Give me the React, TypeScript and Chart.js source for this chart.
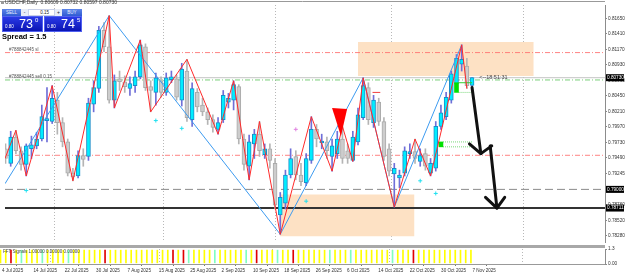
import React, { useEffect, useRef } from 'react';
import { Chart, registerables } from 'chart.js';

Chart.register(...registerables);

const FONT = '"Liberation Sans", "DejaVu Sans", sans-serif';

// ---- candle data (bar index 0 = 4 Jul 2025, daily) ----
const opens = [
  0.79629, 0.79403, 0.79810, 0.79599, 0.79388, 0.79629, 0.79674, 0.79780, 0.80066, 0.80051,
  0.80382, 0.80035, 0.79735, 0.79253, 0.79208, 0.79524, 0.79509, 0.80321, 0.80562, 0.81465,
  0.81209, 0.80382, 0.80713, 0.80667, 0.80562, 0.80607, 0.80743, 0.81209, 0.80592, 0.80502,
  0.80682, 0.80502, 0.80698, 0.80713, 0.80382, 0.80833, 0.80081, 0.80502, 0.80306, 0.80201,
  0.80081, 0.79930, 0.80081, 0.80351, 0.80382, 0.80592, 0.79780, 0.79358, 0.79704, 0.79855,
  0.79539, 0.79629, 0.79403, 0.78606, 0.78787, 0.79223, 0.79509, 0.79223, 0.79103, 0.79449,
  0.79930, 0.79719, 0.79735, 0.79509, 0.79554, 0.79780, 0.79599, 0.79449, 0.79735, 0.80111,
  0.80577, 0.80035, 0.80351, 0.80051, 0.79629, 0.79238, 0.79178, 0.79253, 0.79554, 0.79584,
  0.79434, 0.79554, 0.79253, 0.79328, 0.79975, 0.80126, 0.80382, 0.80637, 0.80938, 0.80908,
  0.80609,
];
const highs = [
  0.79704, 0.79900, 0.79915, 0.79659, 0.79704, 0.79825, 0.79885, 0.80306, 0.80577, 0.80607,
  0.80502, 0.80111, 0.79780, 0.79328, 0.79599, 0.79629, 0.80412, 0.80682, 0.81525, 0.81585,
  0.81691, 0.80773, 0.80833, 0.80758, 0.80743, 0.80833, 0.81314, 0.81254, 0.80682, 0.80803,
  0.80743, 0.80803, 0.80833, 0.80773, 0.80953, 0.81014, 0.80652, 0.80562, 0.80412, 0.80261,
  0.80156, 0.80111, 0.80532, 0.80487, 0.80682, 0.80622, 0.79855, 0.79840, 0.79930, 0.80051,
  0.79704, 0.79704, 0.79479, 0.78952, 0.79298, 0.79629, 0.79599, 0.79403, 0.79554, 0.80126,
  0.80005, 0.79855, 0.79810, 0.79780, 0.79900, 0.79975, 0.79704, 0.79900, 0.80261, 0.80728,
  0.80652, 0.80457, 0.80412, 0.80111, 0.79704, 0.79403, 0.79298, 0.79659, 0.79704, 0.79780,
  0.79629, 0.79629, 0.79479, 0.80051, 0.80306, 0.80502, 0.80833, 0.81089, 0.81239, 0.81029,
  0.80732,
];
const lows = [
  0.79403, 0.79358, 0.79554, 0.79298, 0.79208, 0.79479, 0.79629, 0.79750, 0.79735, 0.80020,
  0.79855, 0.79659, 0.79208, 0.79133, 0.79178, 0.79358, 0.79449, 0.80201, 0.80502, 0.81134,
  0.80336, 0.80261, 0.80532, 0.80502, 0.80457, 0.80502, 0.80713, 0.80532, 0.80201, 0.80306,
  0.80427, 0.80457, 0.80652, 0.80382, 0.80291, 0.80051, 0.79975, 0.80201, 0.80141, 0.80005,
  0.79885, 0.79855, 0.80035, 0.80261, 0.80231, 0.79704, 0.79298, 0.79148, 0.79479, 0.79509,
  0.79479, 0.79328, 0.78696, 0.78305, 0.78696, 0.79178, 0.79148, 0.79057, 0.79057, 0.79403,
  0.79659, 0.79629, 0.79479, 0.79283, 0.79479, 0.79403, 0.79403, 0.79434, 0.79689, 0.80081,
  0.80005, 0.79960, 0.79990, 0.79449, 0.79208, 0.78726, 0.79027, 0.79208, 0.79479, 0.79403,
  0.79358, 0.79298, 0.79208, 0.79283, 0.79930, 0.80081, 0.80336, 0.80592, 0.80833, 0.80562,
  0.80597,
];
const closes = [
  0.79479, 0.79810, 0.79599, 0.79388, 0.79674, 0.79689, 0.79780, 0.80126, 0.80096, 0.80412,
  0.80035, 0.79735, 0.79253, 0.79193, 0.79524, 0.79464, 0.80336, 0.80577, 0.81465, 0.81209,
  0.80382, 0.80682, 0.80667, 0.80592, 0.80637, 0.80743, 0.81239, 0.80577, 0.80532, 0.80728,
  0.80502, 0.80728, 0.80743, 0.80427, 0.80863, 0.80111, 0.80562, 0.80276, 0.80201, 0.80081,
  0.79960, 0.80035, 0.80457, 0.80412, 0.80622, 0.79780, 0.79388, 0.79735, 0.79855, 0.79599,
  0.79629, 0.79449, 0.78756, 0.78877, 0.79223, 0.79479, 0.79223, 0.79118, 0.79479, 0.79930,
  0.79780, 0.79750, 0.79599, 0.79674, 0.79780, 0.79479, 0.79479, 0.79810, 0.80156, 0.80607,
  0.80081, 0.80382, 0.80051, 0.79509, 0.79283, 0.79328, 0.79223, 0.79599, 0.79584, 0.79479,
  0.79524, 0.79358, 0.79403, 0.79975, 0.80186, 0.80427, 0.80788, 0.81029, 0.81014, 0.80607,
  0.80730,
];

// date axis labels (every 6 bars)
const dateTickBars = [0, 6, 12, 18, 24, 30, 36, 42, 48, 54, 60, 66, 72, 78, 84, 90];
const dateLabels = [
  '4 Jul 2025', '14 Jul 2025', '22 Jul 2025', '30 Jul 2025', '7 Aug 2025', '15 Aug 2025',
  '25 Aug 2025', '2 Sep 2025', '10 Sep 2025', '18 Sep 2025', '26 Sep 2025', '6 Oct 2025',
  '14 Oct 2025', '22 Oct 2025', '30 Oct 2025', '7 Nov 2025',
];
const gridBars = [20, 41, 63, 86, 113.9];
const priceTicks = [
  0.8165, 0.8141, 0.8117, 0.8093, 0.8069, 0.8045, 0.8021, 0.7997, 0.7973, 0.7949, 0.79245,
  0.7876, 0.7852, 0.7828,
];

// zigzags
const redZigBars = [-0.1, 2, 4, 9, 13, 20, 21, 26, 28, 35, 41, 44, 47, 49, 53, 59, 63, 65, 67, 69, 75, 79, 82, 88, 89];
const redZigPrices = [
  0.79479, 0.79915, 0.79208, 0.80607, 0.79133, 0.81691, 0.80261, 0.81314, 0.80201, 0.81014,
  0.79855, 0.80682, 0.79148, 0.80051, 0.78305, 0.80126, 0.79283, 0.79975, 0.79434, 0.80728,
  0.78726, 0.79780, 0.79208, 0.81239, 0.80562,
];
const blueZigBars = [-0.1, 20, 53, 69, 75, 88];
const blueZigPrices = [0.79088, 0.81691, 0.78305, 0.80728, 0.78726, 0.81239];

// levels
const bidPrice = 0.8073;
const slPrice = 0.81119;
const entryPrice = 0.80695;
const tpPrice = 0.79528;
const levelA = 0.79;
const levelB = 0.78711;

// zones
const topZoneBars = [68, 101.9];
const topZonePrices = [0.81284, 0.80758];
const bottomZoneBars = [52.9, 78.9];
const bottomZonePrices = [0.78922, 0.78275];

// red triangle
const triBars = [63.0, 65.9, 64.7];
const triPrices = [0.80261, 0.80246, 0.79825];

// arrows
const arrow1ShaftBars = [90.0, 91.7];
const arrow1ShaftPrices = [0.80577, 0.79554];
const arrow1HeadBars = [89.5, 91.7, 93.8];
const arrow1HeadPrices = [0.79705, 0.79554, 0.79674];
const arrow2ShaftBars = [93.5, 94.8];
const arrow2ShaftPrices = [0.79674, 0.78711];
const arrow2HeadBars = [92.6, 94.8, 96.3];
const arrow2HeadPrices = [0.78877, 0.78711, 0.78877];

// markers
const cyanMarkBars = [4, 29, 34, 58, 80, 83];
const cyanMarkPrices = [0.78982, 0.80066, 0.79945, 0.78817, 0.79133, 0.78937];
const violetMarkBars = [56];
const violetMarkPrices = [0.7993];
const greenBoxBars = [84, 87];
const greenBoxLows = [0.79659, 0.80502];
const greenBoxHighs = [0.79735, 0.80652];

// sub-window signal colours per bar
const signals =
  'YYRYGYYYGY' + 'YYYGYYYYYY' + 'RYYYYYYYYY' + 'YYYRYRGYYY' + 'YGYYYYYGYR' +
  'YYYGYYRYYY' + 'YYYGYYYGYY' + 'YYYYYGYYYR' + 'YYYYYYYYYYY';

const X_MIN = -0.1;
const X_MAX = 115.65;
const Y_MIN = 0.78185;
const Y_MAX = 0.81856;

const PEACH = 'rgb(253,225,196)';
const SIG: Record<string, string> = { Y: '#FFFF00', R: '#E00000', G: '#7FFFC0' };
const AXIS_FONT = 4.7;

const pts = (xs: number[], ys: number[]) => xs.map((x, i) => ({ x, y: ys[i] }));

export default function App() {
  const mainRef = useRef<HTMLCanvasElement>(null);
  const subRef = useRef<HTMLCanvasElement>(null);

  useEffect(() => {
    const bars = opens.map((_, i) => i);
    const bull = (i: number) => closes[i] >= opens[i];
    const line = (data: any[], color: string, width: number, dash: number[], order: number, extra: any = {}) => ({
      type: 'line', data, borderColor: color, borderWidth: width, borderDash: dash,
      pointRadius: 0, fill: false, tension: 0, order, ...extra,
    });
    const span = (p: number) => [{ x: X_MIN, y: p }, { x: X_MAX, y: p }];
    const zone = (bx: number[], pr: number[]) => ({
      type: 'line', data: [{ x: bx[0], y: pr[0] }, { x: bx[1], y: pr[0] }],
      fill: { value: pr[1] }, backgroundColor: PEACH, borderColor: 'rgba(0,0,0,0)', borderWidth: 0,
      pointRadius: 0, order: 30,
    });

    const overlay = {
      id: 'overlay',
      afterDatasetsDraw(chart: any) {
        const { ctx, chartArea, scales } = chart;
        const x = scales.x, y = scales.y;
        ctx.save();
        ctx.beginPath();
        triBars.forEach((b, i) => {
          const px = x.getPixelForValue(b), py = y.getPixelForValue(triPrices[i]);
          if (i === 0) ctx.moveTo(px, py); else ctx.lineTo(px, py);
        });
        ctx.closePath();
        ctx.fillStyle = '#FF0000';
        ctx.fill();
        ctx.font = `4.5px ${FONT}`;
        ctx.fillStyle = '#555';
        ctx.textAlign = 'left';
        ctx.textBaseline = 'bottom';
        ctx.fillText('#788842445 sl', chartArea.left + 4, y.getPixelForValue(slPrice) - 1);
        ctx.fillText('#788842445 sell 0.15', chartArea.left + 4, y.getPixelForValue(entryPrice) - 1);
        ctx.font = `5.5px ${FONT}`;
        ctx.fillStyle = '#444';
        ctx.textBaseline = 'middle';
        ctx.fillText('<--18:51:31', x.getPixelForValue(91.4), y.getPixelForValue(bidPrice));
        ctx.restore();
      },
      afterDraw(chart: any) {
        const { ctx, chartArea, scales } = chart;
        const y = scales.y;
        ctx.save();
        ctx.strokeStyle = '#999';
        ctx.lineWidth = 1;
        ctx.beginPath();
        ctx.moveTo(0, 1.5);
        ctx.lineTo(chartArea.right, 1.5);
        ctx.stroke();
        const tag = (p: number) => {
          const py = y.getPixelForValue(p);
          ctx.fillStyle = '#000';
          ctx.fillRect(chartArea.right + 1, py - 3.5, 18, 7);
          ctx.fillStyle = '#fff';
          ctx.font = `${AXIS_FONT}px ${FONT}`;
          ctx.textAlign = 'left';
          ctx.textBaseline = 'middle';
          ctx.fillText(p.toFixed(5), chartArea.right + 2, py);
        };
        tag(bidPrice);
        tag(levelA);
        tag(levelB);
        ctx.restore();
      },
    };

    const main = new Chart(mainRef.current as HTMLCanvasElement, {
      type: 'bar',
      data: {
        datasets: [
          zone(topZoneBars, topZonePrices),
          zone(bottomZoneBars, bottomZonePrices),
          line(span(slPrice), 'rgba(255,110,110,0.85)', 1, [5, 2, 1, 2], 20),
          line(span(tpPrice), 'rgba(255,110,110,0.85)', 1, [5, 2, 1, 2], 20),
          line(span(entryPrice), 'rgba(100,200,100,0.85)', 1, [5, 2, 1, 2], 20),
          line(span(bidPrice), '#C4C4C4', 1, [], 20),
          line(span(levelA), '#8A8A8A', 1, [8, 4], 20),
          line(span(levelB), '#333333', 2, [], 20),
          {
            type: 'bar',
            data: bars.map((i) => ({ x: i, y: [lows[i], highs[i]] })),
            backgroundColor: bars.map((i) => (bull(i) ? '#6F6FD8' : '#B4B4B4')),
            barThickness: 1, grouped: false, order: 12,
          },
          {
            type: 'bar',
            data: bars.map((i) => ({ x: i, y: [opens[i], closes[i]] })),
            backgroundColor: bars.map((i) => (bull(i) ? '#00EEFF' : '#CDCDCD')),
            borderColor: bars.map((i) => (bull(i) ? '#1A8CC8' : '#AAAAAA')),
            borderWidth: 1, borderSkipped: false, barThickness: 4, grouped: false, order: 11,
          },
          {
            type: 'bar',
            data: greenBoxBars.map((b, i) => ({ x: b, y: [greenBoxLows[i], greenBoxHighs[i]] })),
            backgroundColor: '#00E000', barThickness: 4, grouped: false, order: 10,
          },
          line(pts([84.4, 90], [greenBoxHighs[0], greenBoxHighs[0]]), '#7CD87C', 1, [1, 1], 10),
          line(pts([84.4, 90], [greenBoxLows[0], greenBoxLows[0]]), '#7CD87C', 1, [1, 1], 10),
          line(pts([87.4, 90], [greenBoxHighs[1], greenBoxHighs[1]]), '#30D030', 1, [], 10),
          line(pts([87.4, 90], [greenBoxLows[1], greenBoxLows[1]]), '#7CD87C', 1, [1, 1], 10),
          line(pts(blueZigBars, blueZigPrices), '#3D9BF0', 1, [], 6),
          line(pts(redZigBars, redZigPrices), '#FF2A2A', 1, [], 5),
          line(pts([70.8, 72.3], [0.80502, 0.80502]), '#F04040', 1, [], 5),
          line(pts(cyanMarkBars, cyanMarkPrices), '#20E0F0', 1, [], 4, {
            showLine: false, pointRadius: 2, pointStyle: 'cross', pointBorderColor: '#20E0F0', pointBorderWidth: 1,
          }),
          line(pts(violetMarkBars, violetMarkPrices), '#E080E0', 1, [], 4, {
            showLine: false, pointRadius: 2, pointStyle: 'cross', pointBorderColor: '#E080E0', pointBorderWidth: 1,
          }),
          line(pts(arrow1ShaftBars, arrow1ShaftPrices), '#111', 3, [], 1, { borderCapStyle: 'round' }),
          line(pts(arrow1HeadBars, arrow1HeadPrices), '#111', 3, [], 1, { borderCapStyle: 'round', borderJoinStyle: 'round' }),
          line(pts(arrow2ShaftBars, arrow2ShaftPrices), '#111', 3, [], 1, { borderCapStyle: 'round' }),
          line(pts(arrow2HeadBars, arrow2HeadPrices), '#111', 3, [], 1, { borderCapStyle: 'round', borderJoinStyle: 'round' }),
        ] as any,
      },
      options: {
        responsive: false,
        animation: false,
        events: [],
        layout: { padding: { top: 2, bottom: 1, left: 0, right: 0 } },
        plugins: { legend: { display: false }, tooltip: { enabled: false } },
        scales: {
          x: {
            type: 'linear', min: X_MIN, max: X_MAX, offset: false, position: 'bottom',
            afterBuildTicks: (s: any) => { s.ticks = gridBars.map((v) => ({ value: v })); },
            afterFit: (s: any) => { s.height = 0; s.paddingLeft = 0; s.paddingRight = 0; },
            ticks: { display: false },
            grid: { color: '#B8B8B8', drawTicks: false, lineWidth: 1 },
            border: { display: false, dash: [1, 2] },
          },
          y: {
            type: 'linear', position: 'right', min: Y_MIN, max: Y_MAX,
            afterBuildTicks: (s: any) => { s.ticks = priceTicks.map((v) => ({ value: v })); },
            afterFit: (s: any) => { s.width = 20; s.paddingTop = 0; s.paddingBottom = 0; },
            ticks: {
              autoSkip: false, padding: 1, color: '#333', font: { family: FONT, size: AXIS_FONT },
              callback: (v: any) => Number(v).toFixed(5),
            },
            grid: { drawOnChartArea: false, drawTicks: true, tickLength: 2, color: '#888' },
            border: { display: true, color: '#8C8C8C' },
          },
        },
      } as any,
      plugins: [overlay],
    });

    const sig = signals.split('');
    const sub = new Chart(subRef.current as HTMLCanvasElement, {
      type: 'bar',
      data: {
        datasets: [{
          data: sig.map((_, i) => ({ x: i, y: [0.1, 1.2] })),
          backgroundColor: sig.map((c) => SIG[c]),
          barThickness: 1, grouped: false,
        }] as any,
      },
      options: {
        responsive: false,
        animation: false,
        events: [],
        layout: { padding: { top: 5, bottom: 0, left: 0, right: 0 } },
        plugins: { legend: { display: false }, tooltip: { enabled: false } },
        scales: {
          x: {
            type: 'linear', min: X_MIN, max: X_MAX, offset: false, position: 'bottom',
            afterBuildTicks: (s: any) => { s.ticks = dateTickBars.map((v) => ({ value: v })); },
            afterFit: (s: any) => { s.height = 10; s.paddingLeft = 0; s.paddingRight = 0; },
            ticks: {
              autoSkip: false, maxRotation: 0, minRotation: 0, align: 'start', labelOffset: 1.5, padding: 1.5,
              color: '#333', font: { family: FONT, size: 4.6 },
              callback: (_v: any, i: number) => dateLabels[i],
            },
            grid: { drawOnChartArea: false, drawTicks: true, tickLength: 2, color: '#777' },
            border: { display: true, color: '#999' },
          },
          xg: {
            type: 'linear', min: X_MIN, max: X_MAX, offset: false, position: 'bottom',
            afterBuildTicks: (s: any) => { s.ticks = gridBars.map((v) => ({ value: v })); },
            afterFit: (s: any) => { s.height = 0; s.paddingLeft = 0; s.paddingRight = 0; },
            ticks: { display: false },
            grid: { color: '#B8B8B8', drawTicks: false },
            border: { display: false, dash: [1, 2] },
          },
          y: {
            type: 'linear', position: 'right', min: 0, max: 1.3,
            afterBuildTicks: (s: any) => { s.ticks = [{ value: 0 }, { value: 1.3 }]; },
            afterFit: (s: any) => { s.width = 20; s.paddingTop = 0; s.paddingBottom = 0; },
            ticks: {
              autoSkip: false, padding: 1, color: '#333', font: { family: FONT, size: AXIS_FONT },
              callback: (v: any) => (Number(v) === 0 ? '0.00' : '1.3'),
            },
            grid: { drawOnChartArea: false, drawTicks: true, tickLength: 2, color: '#888' },
            border: { display: true, color: '#8C8C8C' },
          },
        },
      } as any,
    });

    return () => { main.destroy(); sub.destroy(); };
  }, []);

  const blueBtn: React.CSSProperties = {
    position: 'absolute', top: 9, height: 7, background: 'linear-gradient(#5C84E8, #2F5BD2)',
    color: '#E8F0FF', fontSize: 4.5, lineHeight: '7px', textAlign: 'center', fontFamily: FONT,
  };
  const pm: React.CSSProperties = {
    position: 'absolute', top: 9, height: 7, width: 7, background: '#E6ECF8', color: '#223',
    fontSize: 5, lineHeight: '7px', textAlign: 'center', fontFamily: FONT,
  };
  const bigBox: React.CSSProperties = {
    position: 'absolute', top: 16, height: 16, background: 'linear-gradient(#2A3AE6, #0A14B4)',
    color: '#fff', fontFamily: FONT, border: '1px solid #5060F0', boxSizing: 'border-box',
  };

  return (
    <div style={{ position: 'fixed', left: 0, top: 0, width: 625, height: 274, background: '#fff', overflow: 'hidden' }}>
      <canvas ref={mainRef} width={625} height={247} style={{ position: 'absolute', left: 0, top: 0, width: 625, height: 247 }} />
      <canvas ref={subRef} width={625} height={30} style={{ position: 'absolute', left: 0, top: 244, width: 625, height: 30 }} />
      <div style={{ position: 'absolute', left: 0, top: 245, width: 605, height: 3, background: '#A8A8A8' }} />
      <div style={{ position: 'absolute', left: 3, top: 249, fontFamily: FONT, fontSize: 4.5, color: '#444', whiteSpace: 'pre', lineHeight: '5px' }}>
        FFT Signals 1.00000 0.00000 0.00000
      </div>
      <div style={{ position: 'absolute', left: 1, top: 0, fontFamily: FONT, fontSize: 5, color: '#333', whiteSpace: 'pre', lineHeight: '5px' }}>
        <span style={{ display: 'inline-block', width: 3, height: 3, background: '#999', marginRight: 1 }} />
        USDCHF,Daily  0.80609 0.80732 0.80597 0.80730
      </div>
      <div style={{ ...blueBtn, left: 2, width: 19 }}>SELL</div>
      <div style={{ ...pm, left: 21 }}>-</div>
      <div style={{ position: 'absolute', left: 28, top: 9, width: 27, height: 7, background: '#fff', border: '1px solid #C8D0E8', boxSizing: 'border-box', fontFamily: FONT, fontSize: 4.5, lineHeight: '5px', textAlign: 'right', paddingRight: 5, color: '#222' }}>0.15</div>
      <div style={{ ...pm, left: 55 }}>+</div>
      <div style={{ ...blueBtn, left: 62, width: 20 }}>BUY</div>
      <div style={{ ...bigBox, left: 2, width: 41 }}>
        <span style={{ position: 'absolute', left: 2, top: 7, fontSize: 4.5 }}>0.80</span>
        <span style={{ position: 'absolute', left: 16, top: 0, fontSize: 12.5, lineHeight: '14px' }}>73</span>
        <span style={{ position: 'absolute', left: 32, top: 0, fontSize: 6, lineHeight: '7px' }}>0</span>
      </div>
      <div style={{ ...bigBox, left: 44, width: 38 }}>
        <span style={{ position: 'absolute', left: 2, top: 7, fontSize: 4.5 }}>0.80</span>
        <span style={{ position: 'absolute', left: 16, top: 0, fontSize: 12.5, lineHeight: '14px' }}>74</span>
        <span style={{ position: 'absolute', left: 32, top: 0, fontSize: 6, lineHeight: '7px' }}>5</span>
      </div>
      <div style={{ position: 'absolute', left: 2, top: 32, fontFamily: FONT, fontWeight: 'bold', fontSize: 7.5, color: '#000', whiteSpace: 'pre' }}>Spread = 1.5</div>
    </div>
  );
}
